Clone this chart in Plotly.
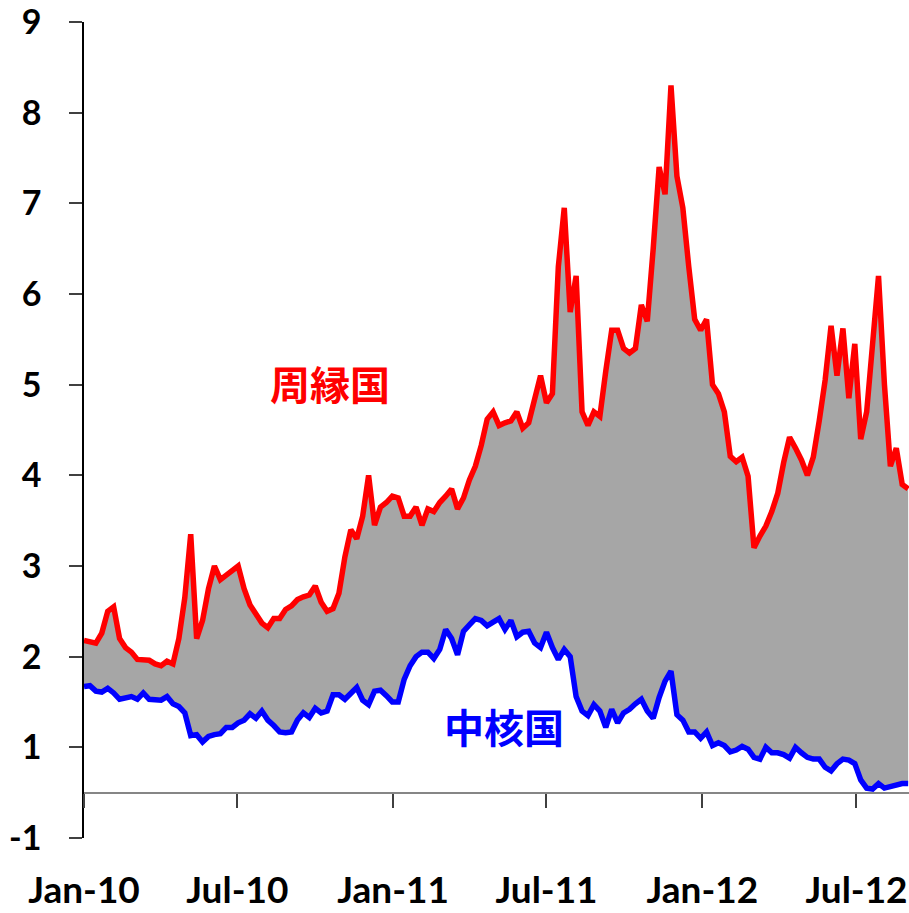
import pandas as pd
import plotly.graph_objects as go

# weekly observations, Jan 2010 - Aug 2012
dates = pd.date_range("2010-01-01", periods=140, freq="7D")

periphery = [2.18, 2.16, 2.15, 2.26, 2.50, 2.55, 2.20, 2.10, 2.05, 1.97,
             1.97, 1.96, 1.92, 1.90, 1.95, 1.92, 2.20, 2.65, 3.35, 2.20,
             2.40, 2.75, 3.00, 2.85, 2.90, 2.95, 3.00, 2.75, 2.57, 2.47,
             2.37, 2.32, 2.42, 2.42, 2.52, 2.56, 2.63, 2.66, 2.68, 2.78,
             2.60, 2.50, 2.53, 2.70, 3.10, 3.40, 3.30, 3.55, 4.00, 3.45,
             3.65, 3.70, 3.77, 3.75, 3.55, 3.55, 3.65, 3.45, 3.63, 3.60,
             3.70, 3.77, 3.85, 3.63, 3.75, 3.95, 4.10, 4.33, 4.62, 4.70,
             4.55, 4.58, 4.60, 4.70, 4.52, 4.58, 4.83, 5.10, 4.80, 4.90,
             6.30, 6.95, 5.80, 6.20, 4.70, 4.55, 4.70, 4.65, 5.15, 5.60,
             5.60, 5.40, 5.35, 5.40, 5.88, 5.70, 6.50, 7.40, 7.10, 8.30,
             7.30, 6.95, 6.30, 5.72, 5.60, 5.72, 5.00, 4.90, 4.70, 4.21,
             4.15, 4.20, 3.99, 3.20, 3.33, 3.44, 3.60, 3.80, 4.14, 4.42,
             4.30, 4.17, 4.00, 4.20, 4.60, 5.05, 5.65, 5.10, 5.62, 4.85,
             5.45, 4.40, 4.70, 5.40, 6.20, 5.00, 4.10, 4.30, 3.90, 3.85]

core = [1.67, 1.68, 1.62, 1.61, 1.65, 1.60, 1.53, 1.55, 1.56, 1.53,
        1.60, 1.53, 1.52, 1.52, 1.56, 1.48, 1.45, 1.38, 1.13, 1.14,
        1.06, 1.12, 1.14, 1.15, 1.22, 1.22, 1.27, 1.30, 1.37, 1.32,
        1.40, 1.30, 1.24, 1.17, 1.16, 1.17, 1.30, 1.38, 1.33, 1.43,
        1.38, 1.40, 1.58, 1.58, 1.53, 1.60, 1.66, 1.52, 1.47, 1.62,
        1.63, 1.57, 1.50, 1.50, 1.75, 1.90, 2.00, 2.05, 2.05, 1.98,
        2.08, 2.30, 2.20, 2.02, 2.28, 2.35, 2.42, 2.40, 2.34, 2.38,
        2.42, 2.30, 2.40, 2.22, 2.27, 2.28, 2.15, 2.10, 2.27, 2.10,
        1.97, 2.08, 2.00, 1.56, 1.40, 1.35, 1.47, 1.40, 1.22, 1.42,
        1.27, 1.38, 1.42, 1.48, 1.53, 1.40, 1.32, 1.55, 1.73, 1.84,
        1.36, 1.30, 1.17, 1.17, 1.10, 1.17, 1.02, 1.05, 1.02, 0.95,
        0.97, 1.01, 0.98, 0.89, 0.87, 1.00, 0.94, 0.94, 0.92, 0.88,
        1.00, 0.94, 0.89, 0.87, 0.87, 0.78, 0.74, 0.82, 0.87, 0.86,
        0.82, 0.64, 0.55, 0.54, 0.60, 0.55, 0.57, 0.58, 0.60, 0.60]

x_tick_vals = ["2010-01-01", "2010-07-01", "2011-01-01", "2011-07-01",
               "2012-01-01", "2012-07-01"]
x_tick_text = ["Jan-10", "Jul-10", "Jan-11", "Jul-11", "Jan-12", "Jul-12"]
y_tick_vals = [0, 1, 2, 3, 4, 5, 6, 7, 8, 9]
y_tick_text = ["-1", "1", "2", "3", "4", "5", "6", "7", "8", "9"]
axis_cross = 0.5
y_range = [0, 9]

label_periphery = "周縁国"
label_core = "中核国"

fig = go.Figure()
fig.add_trace(go.Scatter(x=dates, y=core, mode="lines",
                         line=dict(color="#0000FF", width=5.5),
                         name=label_core, hoverinfo="x+y"))
fig.add_trace(go.Scatter(x=dates, y=periphery, mode="lines",
                         line=dict(color="#FF0000", width=5.5),
                         fill="tonexty", fillcolor="#A6A6A6",
                         name=label_periphery, hoverinfo="x+y"))

x_tick_font = dict(family="Lato", size=37, weight="bold", color="black")
y_tick_font = dict(family="Lato", size=34, weight="bold", color="black")

fig.update_layout(
    width=909, height=913,
    margin=dict(l=84, r=0, t=22, b=75),
    paper_bgcolor="white", plot_bgcolor="white",
    showlegend=False,
    font=dict(family="Lato", color="black"),
    xaxis=dict(
        type="date",
        range=["2010-01-01", "2012-09-01"],
        tickmode="array", tickvals=x_tick_vals, ticktext=x_tick_text,
        anchor="free", position=(axis_cross - y_range[0]) / (y_range[1] - y_range[0]),
        showline=True, linecolor="#868686", linewidth=2,
        ticks="outside", ticklen=14, tickwidth=1.5, tickcolor="#404040",
        showgrid=False, zeroline=False, automargin=False,
        tickfont=x_tick_font, ticklabeloverflow="allow",
        ticklabelstandoff=51,
    ),
    yaxis=dict(
        range=y_range,
        tickmode="array", tickvals=y_tick_vals, ticktext=y_tick_text,
        showline=True, linecolor="black", linewidth=1.5,
        ticks="outside", ticklen=13, tickwidth=1.5, tickcolor="#404040",
        showgrid=False, zeroline=False, automargin=False,
        tickfont=y_tick_font, ticklabeloverflow="allow",
        ticklabelstandoff=21,
    ),
    annotations=[
        dict(text=label_periphery, xref="paper", yref="y", x=0.298, y=5.02,
             showarrow=False, xanchor="center", yanchor="middle",
             font=dict(family="Noto Sans CJK JP", size=40, weight="bold", color="#FF0000")),
        dict(text=label_core, xref="paper", yref="y", x=0.509, y=1.23,
             showarrow=False, xanchor="center", yanchor="middle",
             font=dict(family="Noto Sans CJK JP", size=40, weight="bold", color="#0000FF")),
    ],
)

fig.write_html(
    "out.html",
    config={"displayModeBar": False},
    post_script="document.body.style.margin='0';document.body.style.overflow='hidden';",
)
